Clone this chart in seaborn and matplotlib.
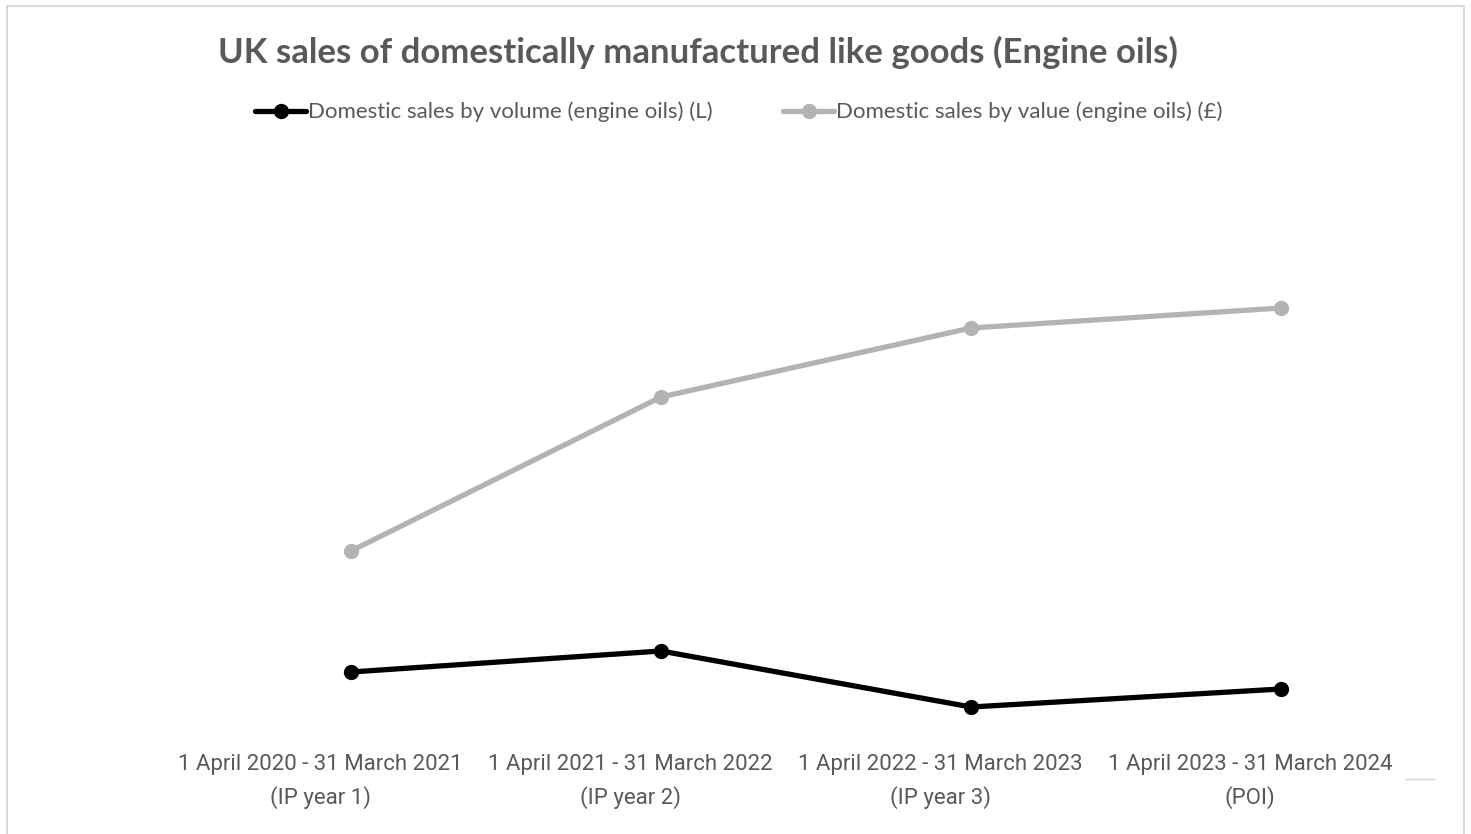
import seaborn as sns
import pandas as pd
import matplotlib.pyplot as plt
from matplotlib.lines import Line2D
from matplotlib.transforms import ScaledTranslation

periods = ["1 April 2020 - 31 March 2021\n(IP year 1)",
           "1 April 2021 - 31 March 2022\n(IP year 2)",
           "1 April 2022 - 31 March 2023\n(IP year 3)",
           "1 April 2023 - 31 March 2024\n(POI)"]
# no y axis in the source, values are indexed units
volume = [68, 89, 33, 51]
value = [189, 343, 412, 432]
series = ["Domestic sales by volume (engine oils) (L)",
          "Domestic sales by value (engine oils) (£)"]

df = pd.DataFrame({
    "periodo": periods * 2,
    "vendas": volume + value,
    "serie": [series[0]] * 4 + [series[1]] * 4,
})

sns.set_theme(style="white")
plt.rcParams['font.family'] = ['Lato', 'DejaVu Sans']

fig = plt.figure(figsize=(14.71, 8.34), dpi=100)
ax = fig.add_axes([196 / 1471, 1 - 740 / 834, 1240 / 1471, 600 / 834])

palette = {series[0]: "#000000", series[1]: "#b3b3b3"}
sns.lineplot(data=df, x="periodo", y="vendas", hue="serie", palette=palette,
             marker="o", markersize=11, markeredgewidth=0, linewidth=3.8,
             sort=False, ax=ax, legend=False)

ax.set_xlim(-0.5, 3.5)
ax.set_ylim(0, 600)
ax.set_yticks([])
ax.set_xlabel("")
ax.set_ylabel("")
for s in ax.spines.values():
    s.set_visible(False)
ax.tick_params(axis="x", length=0, pad=10, labelsize=16, labelcolor="#595959")
# as in the source, the category labels sit a bit left of the points
shift = ScaledTranslation(-31 / 100, 0, fig.dpi_scale_trans)
for t in ax.get_xticklabels():
    t.set_family(["Roboto", "DejaVu Sans"])
    t.set_linespacing(1.65)
    t.set_transform(t.get_transform() + shift)

fig.text(698 / 1471, 1 - 52 / 834,
         "UK sales of domestically manufactured like goods (Engine oils)",
         ha="center", va="center", fontsize=25, fontweight="bold", color="#595959")

handles = [Line2D([], [], color=palette[s], marker="o", markersize=11,
                  markeredgewidth=0, linewidth=3.8) for s in series]
fig.legend(handles, series, loc="center", bbox_to_anchor=(739 / 1471, 1 - 112 / 834),
           ncol=2, frameon=False, fontsize=16, handlelength=2.3, handletextpad=0.1,
           columnspacing=3.15, labelcolor="#595959")

# chart area border and stray tick at bottom right
fig.add_artist(Line2D([7 / 1471, 7 / 1471, 1464 / 1471, 1464 / 1471],
                      [0, 1 - 6 / 834, 1 - 6 / 834, 0], color="#d9d9d9", linewidth=1.5))
fig.add_artist(Line2D([1405 / 1471, 1435 / 1471], [1 - 779 / 834, 1 - 779 / 834],
                      color="#d9d9d9", linewidth=1))

fig.savefig("out.png", dpi=100, facecolor="white")
